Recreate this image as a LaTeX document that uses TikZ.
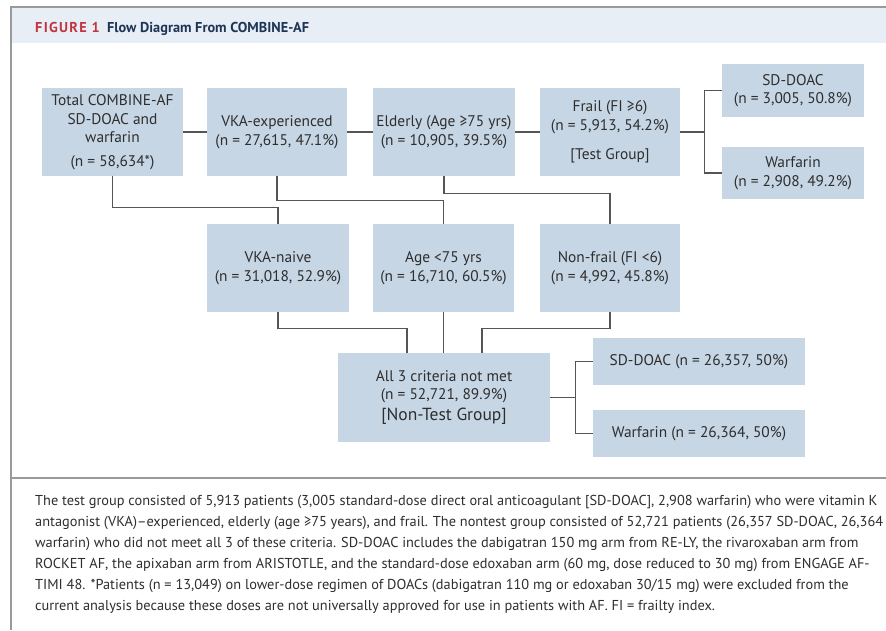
\documentclass[tikz,border=0pt]{standalone}
\usepackage{fontspec}
\setmainfont{PT Sans}
\newfontfamily\symfont{DejaVu Sans}
\newcommand\mygeq{\iffontchar\font"2265\relax\char"2265\relax\else{\symfont\char"2265\relax}\fi}
\definecolor{boxblue}{HTML}{C6D6E5}
\definecolor{bandblue}{HTML}{E8EEF6}
\definecolor{linegray}{HTML}{555555}
\definecolor{framegray}{HTML}{9A9A9A}
\definecolor{textgray}{HTML}{2E2E2E}
\definecolor{figred}{HTML}{C0353F}
\definecolor{navy}{HTML}{1E3556}
\begin{document}
\begin{tikzpicture}[x=1pt,y=-1pt,
  box/.style={fill=boxblue, inner sep=0pt, align=center, text=textgray,
    font=\fontsize{15.4}{18.5}\selectfont},
  link/.style={draw=linegray, line width=1.3pt},
  captionline/.style={anchor=base west, inner sep=0pt, text=textgray,
    font=\fontsize{14.35}{16}\selectfont},
  headtext/.style={anchor=base west, inner sep=0pt, font=\fontsize{14.3}{16}\bfseries}
]
\useasboundingbox (0,0) rectangle (886,630);
\fill[white] (0,0) rectangle (886,630);
% frame and header band
\fill[bandblue] (11,7) rectangle (886,43);
\draw[framegray, line width=1.2pt] (886,7) -- (11,7) -- (11,630);
\draw[framegray, line width=1.2pt] (11,478) -- (886,478);
\node[headtext, text=figred] (fig) at (35,32) {\addfontfeatures{LetterSpace=9}FIGURE 1};
\node[headtext, text=navy] (ttl) at (107,32) {Flow Diagram From COMBINE-AF};

% row 1
\node[box, minimum width=141pt, minimum height=88pt] (tot) at (112.5,132)
  {Total COMBINE-AF\\SD-DOAC and\\warfarin\\[5pt](n = 58,634*)};
\node[box, minimum width=140pt, minimum height=88pt] (vke) at (277,132)
  {VKA-experienced\\(n = 27,615, 47.1\%)};
\node[box, minimum width=142pt, minimum height=88pt] (eld) at (444,132)
  {Elderly (Age \mygeq75 yrs)\\(n = 10,905, 39.5\%)};
\node[box, minimum width=140pt, minimum height=88pt] (frl) at (610,132)
  {Frail (FI \mygeq6)\\(n = 5,913, 54.2\%)\\[11pt][Test Group]};
\node[box, minimum width=142pt, minimum height=53pt] (sd1) at (793,90.5)
  {SD-DOAC\\(n = 3,005, 50.8\%)};
\node[box, minimum width=142pt, minimum height=52pt] (wf1) at (793,173)
  {Warfarin\\(n = 2,908, 49.2\%)};
% row 2
\node[box, minimum width=142pt, minimum height=88pt] (vkn) at (278,268)
  {VKA-naive\\(n = 31,018, 52.9\%)};
\node[box, minimum width=141pt, minimum height=88pt] (age) at (443.5,268)
  {Age <75 yrs\\(n = 16,710, 60.5\%)};
\node[box, minimum width=140pt, minimum height=88pt] (nfr) at (610,268)
  {Non-frail (FI <6)\\(n = 4,992, 45.8\%)};
% row 3
\node[box, minimum width=212pt, minimum height=89pt] (all) at (444,397.5)
  {All 3 criteria not met\\(n = 52,721, 89.9\%)\\[2pt]{\fontsize{17.5}{20}\selectfont [Non-Test Group]}};
\node[box, minimum width=212pt, minimum height=47pt] (sd2) at (699,361.5)
  {SD-DOAC (n = 26,357, 50\%)};
\node[box, minimum width=212pt, minimum height=47pt] (wf2) at (699,433.5)
  {Warfarin (n = 26,364, 50\%)};

% connectors
\draw[link] (tot.east) -- (vke.west);
\draw[link] (vke.east) -- (eld.west);
\draw[link] (eld.east) -- (frl.west);
\draw[link] (frl.east) -- ++(24,0) coordinate (j1);
\draw[link] (j1) |- (sd1.west);
\draw[link] (j1) |- (wf1.west);
\draw[link] (tot.south) -- ++(0,31) -| (vkn.north);
\draw[link] (vke.south) -- ++(0,24) -| (age.north);
\draw[link] (eld.south) -- ++(0,17) -| (nfr.north);
\draw[link] (vkn.south) -- ++(0,16) -| ([xshift=-37pt]all.north);
\draw[link] (age.south) -- (age.south |- all.north);
\draw[link] (nfr.south) -- ++(0,16) -| ([xshift=38pt]all.north);
\draw[link] (all.east) -- ++(25,0) coordinate (j2);
\draw[link] (j2) |- (sd2.west);
\draw[link] (j2) |- (wf2.west);

% caption
\node[captionline] (c1) at (35,505) {The test group consisted of 5,913 patients (3,005 standard-dose direct oral anticoagulant [SD-DOAC], 2,908 warfarin) who were vitamin K};
\node[captionline] (c2) at (35,526) {antagonist (VKA)–experienced, elderly (age \mygeq75 years), and frail. The nontest group consisted of 52,721 patients (26,357 SD-DOAC, 26,364};
\node[captionline] (c3) at (35,547) {warfarin) who did not meet all 3 of these criteria. SD-DOAC includes the dabigatran 150 mg arm from RE-LY, the rivaroxaban arm from};
\node[captionline] (c4) at (35,568) {ROCKET AF, the apixaban arm from ARISTOTLE, and the standard-dose edoxaban arm (60 mg, dose reduced to 30 mg) from ENGAGE AF-};
\node[captionline] (c5) at (35,589) {TIMI 48. *Patients (n = 13,049) on lower-dose regimen of DOACs (dabigatran 110 mg or edoxaban 30/15 mg) were excluded from the};
\node[captionline] (c6) at (35,610) {current analysis because these doses are not universally approved for use in patients with AF. FI = frailty index.};
\end{tikzpicture}
\end{document}
